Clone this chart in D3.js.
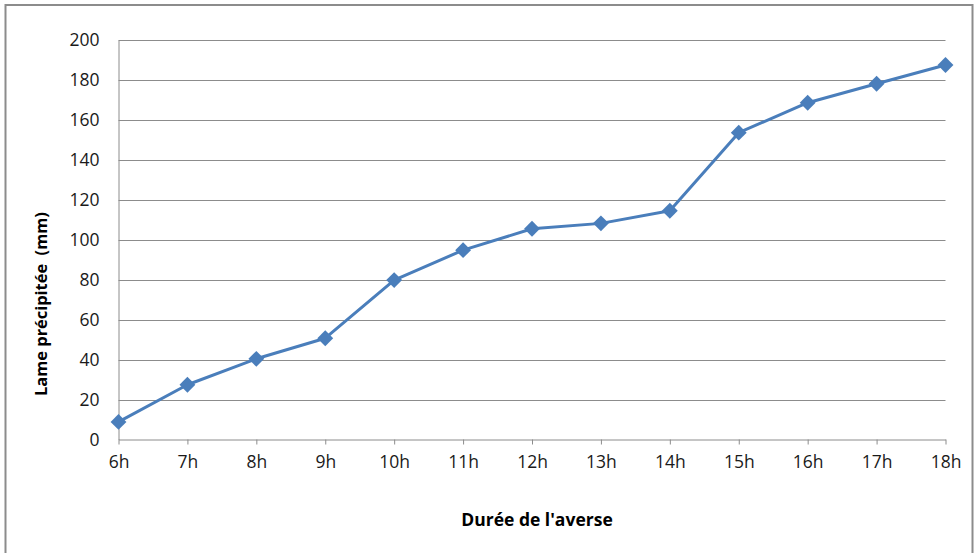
<!DOCTYPE html>
<html><head><meta charset="utf-8">
<script src="https://cdn.jsdelivr.net/npm/d3@7"></script>
<style>body{margin:0;background:#fff}svg{display:block}text{font-family:"Open Sans",sans-serif}</style>
</head><body>
<svg id="c" width="975" height="553"></svg>
<script>
const categories = ["6h","7h","8h","9h","10h","11h","12h","13h","14h","15h","16h","17h","18h"];
const values = [8.8, 27.4, 40.4, 50.7, 79.8, 94.8, 105.5, 108.2, 114.5, 153.6, 168.6, 178.1, 187.5];
const yTicks = [0,20,40,60,80,100,120,140,160,180,200];
const xTitle = "Durée de l'averse";
const yTitle = "Lame précipitée  (mm)";

const svg = d3.select("#c");
svg.append("rect").attr("x",5.5).attr("y",5).attr("width",967).attr("height",560)
  .attr("fill","#fff").attr("stroke","#8c8c8c").attr("stroke-width",2);

const L=118.5, R=945.5, T=40, B=439.5;
const x = d3.scalePoint().domain(categories).range([L,R]);
const y = d3.scaleLinear().domain([0,200]).range([B,T]);

const g = svg.append("g");
g.selectAll("line.grid").data(yTicks.filter(d=>d>0)).join("line")
  .attr("x1",L).attr("x2",R).attr("y1",d=>Math.round(y(d))+0.5).attr("y2",d=>Math.round(y(d))+0.5)
  .attr("stroke","#8c8c8c").attr("stroke-width",1);

const yAxis = g.append("g").attr("transform",`translate(${L},0)`)
  .call(d3.axisLeft(y).tickValues(yTicks).tickSize(0).tickPadding(19));
yAxis.select(".domain").attr("stroke","#8c8c8c");
yAxis.selectAll("text").attr("font-size",17.5).attr("fill","#1a1a1a");

const xAxis = g.append("g").attr("transform",`translate(0,${B})`)
  .call(d3.axisBottom(x).tickSize(5).tickSizeOuter(0).tickPadding(11));
xAxis.select(".domain").attr("stroke","#8c8c8c");
xAxis.selectAll("line").attr("stroke","#8c8c8c");
xAxis.selectAll("text").attr("font-size",17.5).attr("fill","#1a1a1a");

const line = d3.line().x((d,i)=>x(categories[i])).y(d=>y(d));
g.append("path").datum(values).attr("d",line).attr("fill","none")
  .attr("stroke","#4a7ebb").attr("stroke-width",3).attr("stroke-linejoin","round");

g.selectAll("path.pt").data(values).join("path")
  .attr("d",d3.symbol(d3.symbolDiamond2,160)())
  .attr("transform",(d,i)=>`translate(${x(categories[i])},${y(d)})`)
  .attr("fill","#4a7ebb");

svg.append("text").attr("x",537).attr("y",526).attr("text-anchor","middle")
  .attr("font-size",17.5).attr("font-weight","bold").text(xTitle);
svg.append("text").attr("transform",`translate(47,304) rotate(-90)`).attr("text-anchor","middle")
  .attr("font-size",16.4).attr("font-weight","bold").attr("xml:space","preserve").style("white-space","pre").text(yTitle);
</script>
</body></html>
